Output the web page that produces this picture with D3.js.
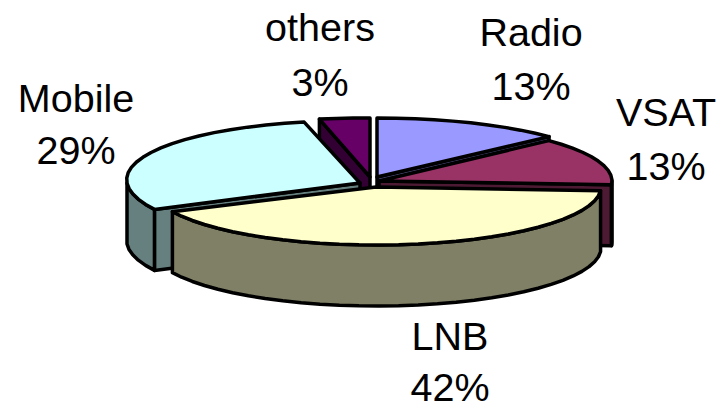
<!DOCTYPE html>
<html lang="en">
  <head>
    <meta charset="UTF-8" />
    <title>Pie chart</title>
    <script src="https://d3js.org/d3.v7.min.js"></script>
    <style>
      body {
        margin: 0;
        background: #fff;
      }
      svg {
        display: block;
      }
      .label {
        font-family: "Liberation Sans", Arial, sans-serif;
        font-size: 39.5px;
        fill: #000;
        text-anchor: middle;
      }
      .face {
        stroke: #000;
        stroke-width: 3.5px;
        stroke-linejoin: round;
      }
    </style>
  </head>
  <body>
    <svg id="chart" width="720" height="406"></svg>
    <script>
      // Chart data
      const categories = ["Radio", "VSAT", "LNB", "Mobile", "others"];
      const shares = [13, 13, 42, 29, 3];

      // Drawing setup
      const topColors = ["#9999ff", "#993366", "#ffffcc", "#ccffff", "#660066"];
      const wallColors = ["#4d4d80", "#4d1a33", "#808066", "#668080", "#330033"];
      const depth = 61;

      // each slice is pulled out of the pie by its own amount
      const geometry = [
        { cx: 377, cy: 177, rx: 236, ry: 59, skew: 0 },
        { cx: 379, cy: 181, rx: 233, ry: 59, skew: 0 },
        { cx: 376, cy: 187, rx: 225, ry: 58, skew: 0 },
        { cx: 360, cy: 183, rx: 233, ry: 62, skew: 0.2 },
        { cx: 370, cy: 177, rx: 270, ry: 59, skew: 0 },
      ];

      // label centres and the distance between the two lines
      const labelSpots = [
        [531, 46],
        [666, 126],
        [450, 350],
        [76, 112],
        [320, 41],
      ];
      const lineGaps = [54, 54, 51, 52, 55];

      const svg = d3.select("#chart");

      const arcs = d3.pie().sort(null)(shares);

      function point(g, a) {
        const dy = -g.ry * Math.cos(a);
        return [g.cx + g.rx * Math.sin(a) + g.skew * dy, g.cy + dy];
      }

      // rim points between two angles, coarse like the source picture
      function rim(g, a0, a1) {
        const n = Math.max(2, Math.ceil((a1 - a0) / 0.09));
        return d3.range(n + 1).map((i) => point(g, a0 + ((a1 - a0) * i) / n));
      }

      const down = (p) => [p[0], p[1] + depth];
      const line = d3.line().curve(d3.curveLinearClosed);

      // painter's order, back slices first and the big front one last
      const order = [4, 0, 1, 3, 2];

      order.forEach((i) => {
        const g = geometry[i];
        const a0 = arcs[i].startAngle;
        const a1 = arcs[i].endAngle;
        const apex = [g.cx, g.cy];
        const layer = svg.append("g").attr("class", "slice");

        // radial walls, only those turned towards us
        const sides = [];
        if (Math.sin(a0) < -1e-6) sides.push(a0);
        if (Math.sin(a1) > 1e-6) sides.push(a1);
        sides.forEach((a) => {
          const tip = point(g, a);
          layer
            .append("path")
            .attr("class", "face")
            .attr("fill", wallColors[i])
            .attr("d", line([apex, tip, down(tip), down(apex)]));
        });

        // outer wall, only the part that faces us
        const w0 = Math.max(a0, Math.PI / 2);
        const w1 = Math.min(a1, (3 * Math.PI) / 2);
        if (w1 > w0) {
          const edge = rim(g, w0, w1);
          layer
            .append("path")
            .attr("class", "face")
            .attr("fill", wallColors[i])
            .attr("d", line(edge.concat(edge.map(down).reverse())));
        }

        // top
        layer
          .append("path")
          .attr("class", "face")
          .attr("fill", topColors[i])
          .attr("d", line([apex].concat(rim(g, a0, a1))));
      });

      // Labels
      categories.forEach((name, i) => {
        const text = svg
          .append("text")
          .attr("class", "label")
          .attr("x", labelSpots[i][0])
          .attr("y", labelSpots[i][1]);
        text.append("tspan").attr("x", labelSpots[i][0]).text(name);
        text
          .append("tspan")
          .attr("x", labelSpots[i][0])
          .attr("dy", lineGaps[i])
          .text(shares[i] + "%");
      });
    </script>
  </body>
</html>
